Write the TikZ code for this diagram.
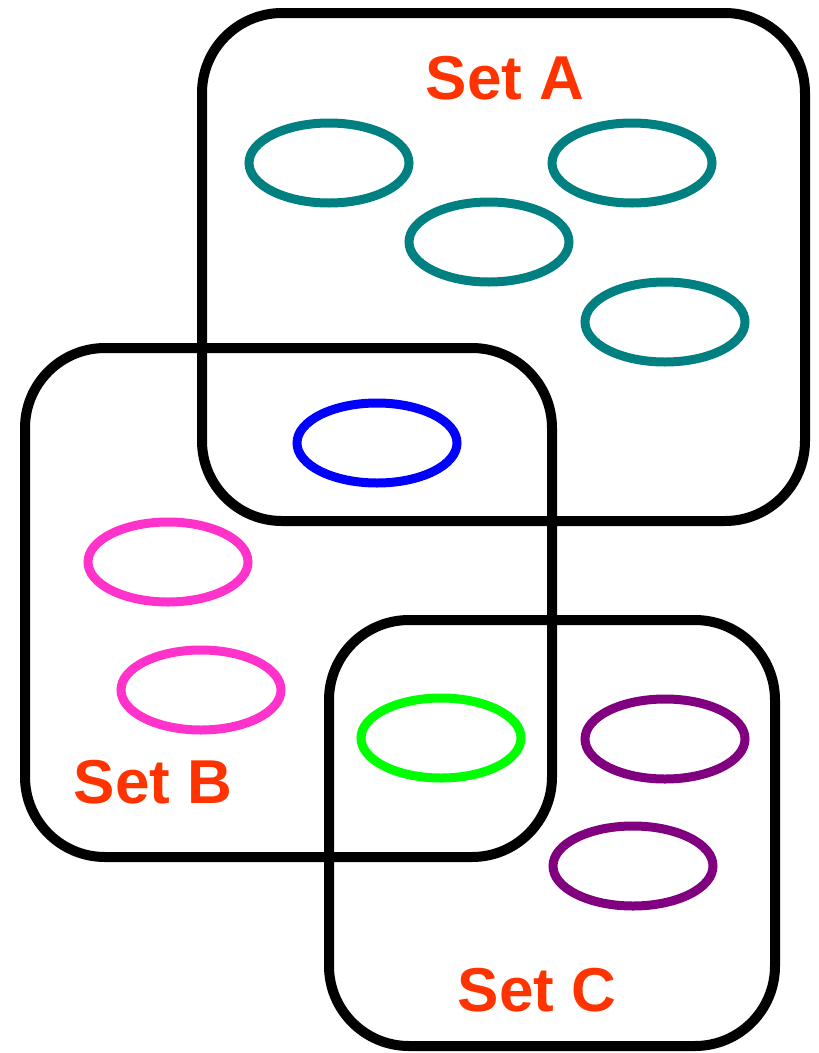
\documentclass[tikz,border=0pt]{standalone}
\usepackage{fontspec}
\setmainfont{Liberation Sans}
\usetikzlibrary{shapes.geometric}
\definecolor{teal2}{HTML}{008080}
\definecolor{pink2}{HTML}{FF33CC}
\definecolor{purple2}{HTML}{800080}
\definecolor{lbl}{HTML}{FF3300}
\begin{document}
\begin{tikzpicture}[x=1pt,y=-1pt,
  setbox/.style={draw=black,line width=10pt,rounded corners=80pt},
  elem/.style={draw,ellipse,line width=9pt,minimum width=160pt,minimum height=80pt,inner sep=0pt},
  setlabel/.style={text=lbl,font=\bfseries\fontsize{62}{62}\selectfont,inner sep=0pt}]
\useasboundingbox (0,0) rectangle (819,1053);
\draw[setbox] (202,13) rectangle (805,521) coordinate (Abox);
\draw[setbox] (25,348) rectangle (552,857) coordinate (Bbox);
\draw[setbox] (329,620) rectangle (775,1046) coordinate (Cbox);
\node[elem,draw=teal2] (a1) at (329,163) {};
\node[elem,draw=teal2] (a2) at (632,163) {};
\node[elem,draw=teal2] (a3) at (489,242) {};
\node[elem,draw=teal2] (a4) at (665,322) {};
\node[elem,draw=blue] (ab) at (377,443) {};
\node[elem,draw=pink2] (b1) at (168,562) {};
\node[elem,draw=pink2] (b2) at (201,690) {};
\node[elem,draw=green] (bc) at (441,738) {};
\node[elem,draw=purple2] (c1) at (665,739) {};
\node[elem,draw=purple2] (c2) at (633,866) {};
\node[setlabel] (la) at (505,78) {Set A};
\node[setlabel] (lb) at (153,782) {Set B};
\node[setlabel] (lc) at (537,990) {Set C};
\end{tikzpicture}
\end{document}
